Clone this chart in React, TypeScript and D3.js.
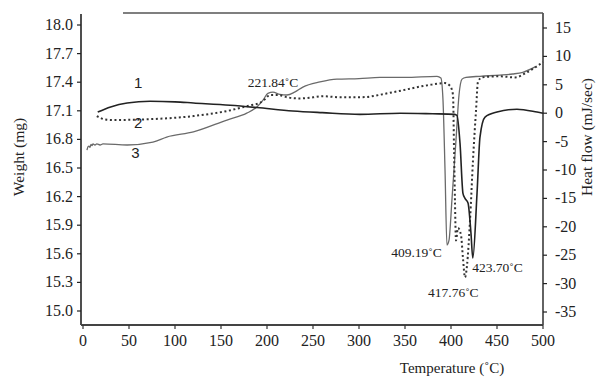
import { useRef, useEffect } from 'react';
import * as d3 from 'd3';

const VW = 597, VH = 379;
const SERIF = '"Liberation Serif", "Times New Roman", serif';
const SANS = '"Liberation Sans", Arial, sans-serif';

// tick labels
const TEMP_TICKS = [0, 50, 100, 150, 200, 250, 300, 350, 400, 450, 500];
const WEIGHT_TICKS = [15.0, 15.3, 15.6, 15.9, 16.2, 16.5, 16.8, 17.1, 17.4, 17.7, 18.0];
const HEAT_TICKS = [15, 10, 5, 0, -5, -10, -15, -20, -25, -30, -35];

// curves: [temperature °C, heat flow mJ/sec]
const CURVE_1: [number, number][] = [
  [16, 0.2], [30, 1.1], [48, 1.8], [73, 2.1], [100, 2.0], [120, 1.8], [160, 1.4], [189, 1.0],
  [228, 0.4], [260, 0.1], [301, -0.2], [345, 0], [380, -0.1], [404, -0.2], [406.5, -0.4],
  [409.8, -5.3], [413, -14.1], [415.2, -15], [418.5, -15.8], [421.7, -21.1], [423.7, -25.5],
  [428.3, -14.1], [431.5, -4.2], [437, -0.7], [450, 0.2], [471.7, 0.7], [493.5, 0.2], [500, 0],
];
const CURVE_2: [number, number][] = [
  [15, -0.5], [24, -1.1], [33, -1.2], [65, -1.1], [120, -0.5], [157, 0.4], [182, 1.4], [192, 1.8],
  [198, 2.5], [203, 3.2], [212, 3.2], [222, 2.8], [236, 2.6], [250, 2.8], [261, 3.0], [279, 2.8],
  [301, 2.8], [337, 3.7], [374, 4.9], [393.5, 5.3], [399, 4.8], [402.2, 3.2], [403.3, -6.5],
  [404.3, -15.3], [405.4, -22.4], [407.6, -20.2], [410.9, -21.5], [413, -25.5], [415.2, -28.9],
  [417.4, -26.8], [420.7, -18.8], [423.9, -8.3], [427.2, 0.5], [429.3, 5.5], [433.7, 6.3],
  [453, 6.5], [469.6, 6.3], [482.6, 7.2], [500, 9.0],
];
const CURVE_3: [number, number][] = [
  [4.3, -6.5], [5.5, -5.9], [6.5, -5.8], [7.6, -6.0], [8.7, -5.5], [9.8, -5.7], [10.9, -5.4],
  [13, -5.6], [15, -5.4], [18.5, -5.6], [21.7, -5.4], [48, -5.6], [76, -5.1], [91, -4.2],
  [120, -3.3], [156.5, -1.2], [178, 0], [189, 1.1], [195.7, 2.3], [201, 3.5], [206.5, 3.7],
  [214, 3.3], [221.7, 3.2], [230, 3.7], [239, 4.6], [257.6, 5.5], [276, 6.0], [300, 6.1],
  [322.8, 6.3], [350, 6.3], [384.8, 6.5], [389, 6.2], [391.3, 2.3], [393.5, -10], [395.6, -23.2],
  [397.8, -22.4], [401, -15.3], [405.4, -4.8], [408.7, 3.2], [412, 6.0], [416.3, 6.3],
  [431.5, 6.5], [453, 6.7], [467, 6.9], [478, 7.2], [492, 8.2],
];

const ANNOTATIONS = [
  { text: '221.84˚C', t: 179, h: 4.6 },
  { text: '409.19˚C', t: 335, h: -25.3 },
  { text: '423.70˚C', t: 423, h: -28 },
  { text: '417.76˚C', t: 375, h: -32.4 },
];
const CURVE_LABELS = [
  { text: '1', t: 60, h: 4.4 },
  { text: '2', t: 60, h: -2.6 },
  { text: '3', t: 57, h: -7.9 },
];

export default function App() {
  const svgRef = useRef<SVGSVGElement>(null);

  useEffect(() => {
    const svg = d3.select(svgRef.current);
    svg.selectAll('*').remove();

    const x = d3.scaleLinear().domain([0, 500]).range([83, 543]);
    const yW = d3.scaleLinear().domain([15, 18]).range([311, 25]);
    const yH = d3.scaleLinear().domain([-35, 15]).range([312, 28]);
    const left = 81, right = 543, top = 13, bottom = 325;

    // frame: left, right, bottom, and the partial top rule
    svg.append('line').attr('x1', left).attr('x2', left).attr('y1', top + 1).attr('y2', bottom)
      .attr('stroke', '#222').attr('stroke-width', 1.6);
    svg.append('line').attr('x1', right).attr('x2', right).attr('y1', top).attr('y2', bottom)
      .attr('stroke', '#222').attr('stroke-width', 1.4);
    svg.append('line').attr('x1', left).attr('x2', right).attr('y1', bottom).attr('y2', bottom)
      .attr('stroke', '#444').attr('stroke-width', 2);
    svg.append('line').attr('x1', 123).attr('x2', right).attr('y1', top).attr('y2', top)
      .attr('stroke', '#555').attr('stroke-width', 1.6);

    // left axis
    const gl = svg.append('g');
    gl.selectAll('line').data(WEIGHT_TICKS).join('line')
      .attr('x1', left - 4).attr('x2', left).attr('y1', d => yW(d)).attr('y2', d => yW(d))
      .attr('stroke', '#222').attr('stroke-width', 1.2);
    gl.selectAll('text').data(WEIGHT_TICKS).join('text')
      .attr('x', 73).attr('y', d => yW(d) + 5).attr('text-anchor', 'end')
      .attr('font-family', SERIF).attr('font-size', 16).attr('fill', '#222')
      .text(d => d.toFixed(1));

    // right axis
    const gr = svg.append('g');
    gr.selectAll('line').data(HEAT_TICKS).join('line')
      .attr('x1', right).attr('x2', right + 4).attr('y1', d => yH(d)).attr('y2', d => yH(d))
      .attr('stroke', '#222').attr('stroke-width', 1.2);
    gr.selectAll('text').data(HEAT_TICKS).join('text')
      .attr('x', 555).attr('y', d => yH(d) + 5).attr('text-anchor', 'start')
      .attr('font-family', SERIF).attr('font-size', 16).attr('fill', '#222')
      .text(d => String(d));

    // bottom axis
    const gb = svg.append('g');
    gb.selectAll('line').data(TEMP_TICKS).join('line')
      .attr('x1', d => x(d)).attr('x2', d => x(d)).attr('y1', bottom).attr('y2', bottom + 4)
      .attr('stroke', '#333').attr('stroke-width', 1.2);
    gb.selectAll('text').data(TEMP_TICKS).join('text')
      .attr('x', d => x(d)).attr('y', 346).attr('text-anchor', 'middle')
      .attr('font-family', SERIF).attr('font-size', 16).attr('fill', '#222')
      .text(d => String(d));

    // axis titles
    svg.append('text').attr('x', 452).attr('y', 373).attr('text-anchor', 'middle')
      .attr('font-family', SERIF).attr('font-size', 15).attr('fill', '#222').text('Temperature (˚C)');
    svg.append('text').attr('transform', 'translate(24,157) rotate(-90)').attr('text-anchor', 'middle')
      .attr('font-family', SERIF).attr('font-size', 15.5).attr('fill', '#222').text('Weight (mg)');
    svg.append('text').attr('transform', 'translate(592,137) rotate(-90)').attr('text-anchor', 'middle')
      .attr('font-family', SERIF).attr('font-size', 15.5).attr('fill', '#222').text('Heat flow (mJ/sec)');

    // curves
    const line = d3.line<[number, number]>().x(d => x(d[0])).y(d => yH(d[1])).curve(d3.curveMonotoneX);
    svg.append('path').attr('d', line(CURVE_3) ?? '').attr('fill', 'none')
      .attr('stroke', '#6a6a6a').attr('stroke-width', 1.3).attr('stroke-linejoin', 'round');
    svg.append('path').attr('d', line(CURVE_2) ?? '').attr('fill', 'none')
      .attr('stroke', '#333').attr('stroke-width', 2).attr('stroke-dasharray', '2 2.6');
    svg.append('path').attr('d', line(CURVE_1) ?? '').attr('fill', 'none')
      .attr('stroke', '#222').attr('stroke-width', 1.6).attr('stroke-linejoin', 'round');

    // annotations
    svg.append('g').selectAll('text').data(ANNOTATIONS).join('text')
      .attr('x', d => x(d.t)).attr('y', d => yH(d.h)).attr('font-family', SERIF).attr('font-size', 13.5)
      .attr('fill', '#222').text(d => d.text);
    svg.append('g').selectAll('text').data(CURVE_LABELS).join('text')
      .attr('x', d => x(d.t)).attr('y', d => yH(d.h)).attr('text-anchor', 'middle')
      .attr('font-family', SANS).attr('font-size', 15).attr('fill', '#222').text(d => d.text);
  }, []);

  return (
    <div style={{ position: 'absolute', left: 0, top: 0, background: '#fff' }}>
      <svg ref={svgRef} width={VW} height={VH} viewBox={`0 0 ${VW} ${VH}`} style={{ display: 'block' }} />
    </div>
  );
}
